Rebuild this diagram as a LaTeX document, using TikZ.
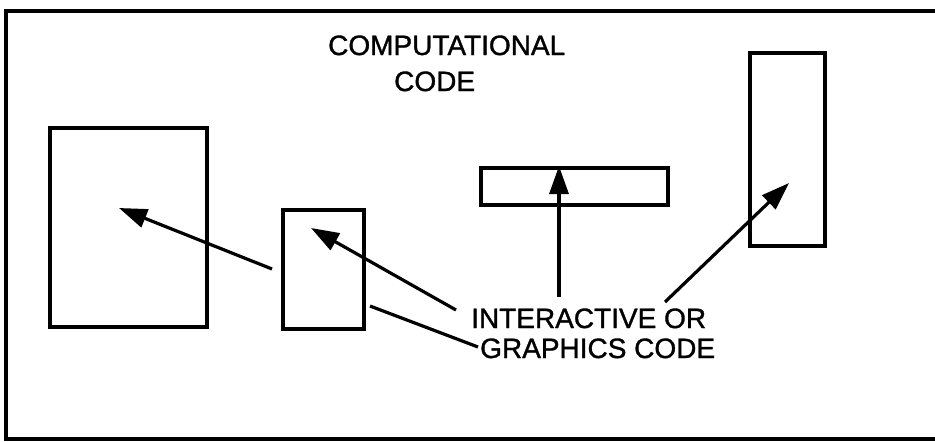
\documentclass[tikz,border=0pt]{standalone}
\usepackage{fontspec}
\setmainfont{Liberation Sans}
\newfontfamily\lettering{Liberation Sans}[FakeBold=1.2]
\usetikzlibrary{arrows.meta}
\begin{document}
\begin{tikzpicture}[x=1pt,y=-1pt,
  frameline/.style={line width=3.5pt},
  box/.style={draw, line width=3.8pt, inner sep=0pt, anchor=north west},
  lbl/.style={inner sep=0pt, anchor=base west, font=\lettering\fontsize{28}{30}\selectfont},
  pointer/.style={line width=3.2pt, -{Triangle[length=28pt,width=19pt]}},
  leader/.style={line width=3.2pt}]
\useasboundingbox (0,0) rectangle (935,442);
% outer frame (right side runs off the picture)
\coordinate (ftr) at (935,11);
\coordinate (ftl) at (6,11);
\coordinate (fbl) at (6,439);
\coordinate (fbr) at (935,439);
\draw[frameline] (ftr) -- (ftl) -- (fbl) -- (fbr);
% boxes
\node[box, minimum width=157pt, minimum height=199pt] (b1) at (48,126) {};
\node[box, minimum width=81pt, minimum height=119pt] (b2) at (281,208) {};
\node[box, minimum width=187pt, minimum height=37pt] (b3) at (479,166) {};
\node[box, minimum width=75pt, minimum height=193pt] (b4) at (748,51) {};
% labels
\node[lbl] (comp) at (328,55) {COMPUTATIONAL};
\node[lbl] (code) at (394,91) {CODE};
\node[lbl] (inter) at (471,328) {INTERACTIVE OR};
\node[lbl] (graph) at (480,358) {GRAPHICS CODE};
% arrow ends
\coordinate (s1) at (272,269);
\coordinate (e1) at (119,208);
\coordinate (s2) at (456,310);
\coordinate (e2) at (311,228);
\coordinate (s3) at (559,297);
\coordinate (e3) at (559,166);
\coordinate (s4) at (665,302);
\coordinate (e4) at (789,183);
\coordinate (s5) at (478,347);
\coordinate (e5) at (370,306);
\draw[pointer] (s1) -- (e1);
\draw[pointer] (s2) -- (e2);
\draw[pointer] (s3) -- (e3);
\draw[pointer] (s4) -- (e4);
\draw[leader] (s5) -- (e5);
\end{tikzpicture}
\end{document}
